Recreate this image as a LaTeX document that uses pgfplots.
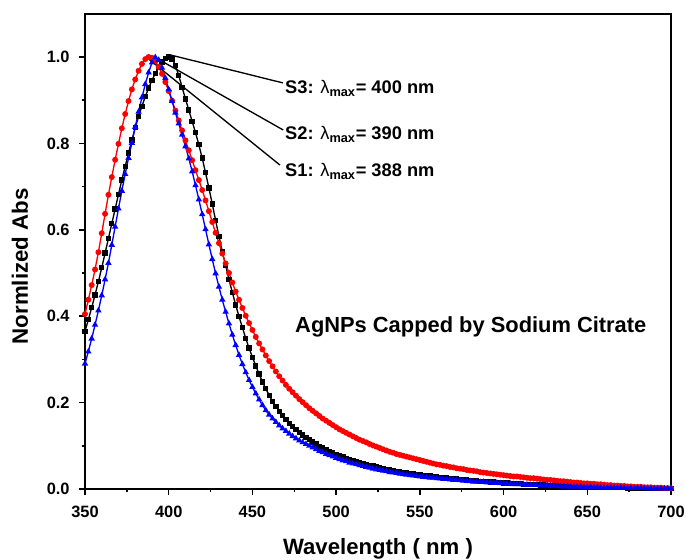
\documentclass[border=0pt]{standalone}
\usepackage{pgfplots}
\pgfplotsset{compat=1.18}
\usepackage{pgfplotstable}
\usepackage{fontspec}
\setmainfont{Liberation Sans}
\pgfplotstableread{
wl red black blue
350 0.405 0.365 0.290
352 0.438 0.392 0.318
354 0.472 0.420 0.348
356 0.508 0.449 0.380
358 0.548 0.480 0.413
360 0.592 0.512 0.448
362 0.637 0.546 0.485
364 0.681 0.580 0.523
366 0.722 0.614 0.565
368 0.762 0.648 0.607
370 0.799 0.682 0.649
372 0.835 0.715 0.690
374 0.868 0.747 0.729
376 0.898 0.778 0.766
378 0.925 0.808 0.801
380 0.948 0.836 0.838
382 0.968 0.862 0.873
384 0.984 0.886 0.906
386 0.995 0.908 0.937
388 1.000 0.928 0.964
390 0.998 0.946 0.987
392 0.990 0.962 0.999
394 0.977 0.976 0.993
396 0.961 0.988 0.975
398 0.942 0.997 0.951
400 0.921 1.000 0.925
402 0.899 0.995 0.898
404 0.876 0.981 0.871
406 0.853 0.957 0.846
408 0.830 0.930 0.820
410 0.807 0.903 0.793
412 0.784 0.877 0.765
414 0.761 0.851 0.735
416 0.738 0.825 0.703
418 0.715 0.797 0.670
420 0.692 0.766 0.636
422 0.668 0.732 0.601
424 0.643 0.697 0.566
426 0.618 0.660 0.532
428 0.593 0.622 0.499
430 0.569 0.585 0.468
432 0.545 0.550 0.438
434 0.522 0.517 0.410
436 0.500 0.485 0.383
438 0.478 0.455 0.357
440 0.457 0.426 0.333
442 0.438 0.399 0.310
444 0.419 0.374 0.289
446 0.401 0.349 0.270
448 0.384 0.326 0.252
450 0.368 0.305 0.236
452 0.352 0.285 0.221
454 0.337 0.266 0.207
456 0.323 0.248 0.194
458 0.309 0.232 0.182
460 0.296 0.217 0.172
462 0.284 0.203 0.163
464 0.272 0.191 0.155
466 0.261 0.180 0.147
468 0.251 0.170 0.140
470 0.241 0.161 0.134
472 0.232 0.152 0.128
474 0.224 0.144 0.122
476 0.216 0.137 0.117
478 0.208 0.131 0.112
480 0.201 0.125 0.108
482 0.194 0.119 0.104
484 0.187 0.114 0.100
486 0.181 0.109 0.096
488 0.175 0.104 0.092
490 0.169 0.099 0.088
492 0.163 0.095 0.085
494 0.158 0.091 0.081
496 0.153 0.087 0.078
498 0.148 0.083 0.075
500 0.143 0.080 0.072
502 0.138 0.077 0.069
504 0.134 0.074 0.066
506 0.130 0.071 0.064
508 0.126 0.068 0.061
510 0.122 0.066 0.059
512 0.118 0.063 0.057
514 0.114 0.061 0.055
516 0.111 0.059 0.053
518 0.108 0.057 0.051
520 0.104 0.055 0.049
522 0.101 0.053 0.047
524 0.098 0.051 0.045
526 0.095 0.049 0.044
528 0.092 0.047 0.042
530 0.089 0.045 0.041
532 0.086 0.044 0.039
534 0.084 0.042 0.038
536 0.081 0.041 0.037
538 0.079 0.040 0.035
540 0.077 0.038 0.034
542 0.075 0.037 0.033
544 0.073 0.036 0.032
546 0.071 0.035 0.031
548 0.069 0.034 0.030
550 0.067 0.033 0.029
552 0.065 0.032 0.028
554 0.063 0.031 0.027
556 0.061 0.030 0.026
558 0.059 0.029 0.026
560 0.057 0.028 0.025
562 0.056 0.027 0.024
564 0.054 0.026 0.023
566 0.053 0.026 0.023
568 0.051 0.025 0.022
570 0.050 0.024 0.021
572 0.048 0.023 0.021
574 0.047 0.022 0.020
576 0.046 0.022 0.019
578 0.044 0.021 0.019
580 0.043 0.020 0.018
582 0.042 0.020 0.017
584 0.041 0.019 0.017
586 0.039 0.018 0.016
588 0.038 0.018 0.016
590 0.037 0.017 0.015
592 0.036 0.016 0.015
594 0.035 0.016 0.014
596 0.034 0.015 0.014
598 0.033 0.015 0.013
600 0.032 0.014 0.013
602 0.031 0.014 0.012
604 0.030 0.013 0.012
606 0.029 0.013 0.011
608 0.029 0.012 0.011
610 0.028 0.012 0.011
612 0.027 0.011 0.010
614 0.026 0.011 0.010
616 0.025 0.010 0.009
618 0.025 0.010 0.009
620 0.024 0.010 0.009
622 0.023 0.009 0.008
624 0.022 0.009 0.008
626 0.021 0.008 0.008
628 0.021 0.008 0.007
630 0.020 0.008 0.007
632 0.019 0.007 0.007
634 0.018 0.007 0.006
636 0.018 0.007 0.006
638 0.017 0.006 0.006
640 0.016 0.006 0.005
642 0.015 0.006 0.005
644 0.015 0.005 0.005
646 0.014 0.005 0.005
648 0.013 0.005 0.004
650 0.013 0.005 0.004
652 0.012 0.004 0.004
654 0.012 0.004 0.004
656 0.011 0.004 0.004
658 0.011 0.004 0.003
660 0.010 0.004 0.003
662 0.009 0.003 0.003
664 0.009 0.003 0.003
666 0.008 0.003 0.003
668 0.008 0.003 0.003
670 0.007 0.003 0.003
672 0.007 0.003 0.002
674 0.006 0.002 0.002
676 0.006 0.002 0.002
678 0.005 0.002 0.002
680 0.005 0.002 0.002
682 0.005 0.002 0.002
684 0.004 0.002 0.002
686 0.004 0.002 0.001
688 0.004 0.002 0.001
690 0.003 0.001 0.001
692 0.003 0.001 0.001
694 0.003 0.001 0.001
696 0.002 0.001 0.001
698 0.002 0.001 0.001
700 0.002 0.001 0.001
}\spectra
\begin{document}
\begin{tikzpicture}
\path[use as bounding box] (-63.75pt,-53.25pt) rectangle (450.75pt,366.75pt);
\begin{axis}[
  at={(0pt,0pt)}, anchor=origin,
  scale only axis,
  width=439.5pt, height=356.25pt,
  xmin=350, xmax=700, ymin=0, ymax=1.0995,
  xtick={350,400,...,700},
  ytick={0,0.2,...,1.0},
  minor x tick num=1, minor y tick num=1,
  tick pos=left,
  tick align=outside,
  major tick length=4.5pt,
  minor tick length=2.6pt,
  axis line style={line width=1.1pt},
  every tick/.style={line width=1.1pt, black},
  /pgf/number format/assume math mode=true,
  xticklabel style={font=\bfseries\fontsize{12.3}{14}\selectfont, yshift=-5pt, /pgf/number format/1000 sep={}},
  yticklabel style={font=\bfseries\fontsize{12.3}{14}\selectfont, xshift=-3.5pt, /pgf/number format/.cd, fixed, fixed zerofill, precision=1},
  xlabel={Wavelength ( nm )},
  ylabel={Normlized Abs},
  xlabel style={font=\bfseries\fontsize{16.6}{19}\selectfont, at={(axis description cs:0.5,-0.126)}, anchor=center},
  ylabel style={font=\bfseries\fontsize{16.7}{19}\selectfont, at={(axis description cs:-0.111,0.469)}, anchor=center},
  clip=true,
]
\addplot[black, line width=1.0pt, mark=square*, mark size=1.5pt, mark options={solid}] table[x=wl, y=black] {\spectra};
\addplot[red, line width=1.0pt, mark=*, mark size=1.7pt, mark options={solid}] table[x=wl, y=red] {\spectra};
\addplot[blue, line width=1.0pt, mark=triangle*, mark size=1.8pt, mark options={solid}] table[x=wl, y=blue] {\spectra};
\draw[black, line width=1.0pt] (axis cs:400.7,1.005) -- (axis cs:468.2,0.94);
\draw[black, line width=1.0pt] (axis cs:392.8,0.997) -- (axis cs:468.4,0.831);
\draw[black, line width=1.0pt] (axis cs:386.8,0.999) -- (axis cs:466.4,0.75);
\node[anchor=base west, inner sep=0pt, font=\bfseries\fontsize{13.7}{16}\selectfont] at (axis cs:469.4,0.916) {S3: {\mdseries λ}\textsubscript{max}= 400 nm};
\node[anchor=base west, inner sep=0pt, font=\bfseries\fontsize{13.7}{16}\selectfont] at (axis cs:469.4,0.808) {S2: {\mdseries λ}\textsubscript{max}= 390 nm};
\node[anchor=base west, inner sep=0pt, font=\bfseries\fontsize{13.7}{16}\selectfont] at (axis cs:469.4,0.723) {S1: {\mdseries λ}\textsubscript{max}= 388 nm};
\node[anchor=base west, inner sep=0pt, font=\bfseries\fontsize{16.4}{19}\selectfont] at (axis cs:475.4,0.363) {AgNPs Capped by Sodium Citrate};
\end{axis}
\end{tikzpicture}
\end{document}
